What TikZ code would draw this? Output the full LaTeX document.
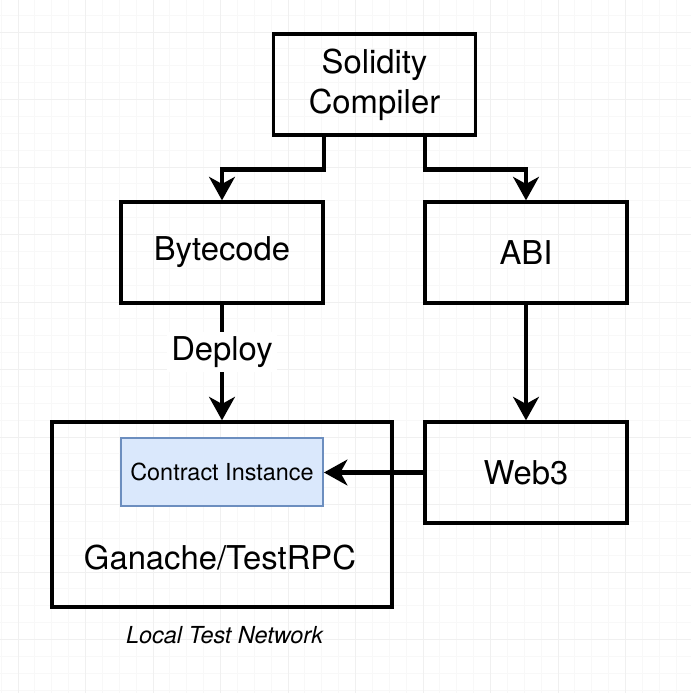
\documentclass[tikz,border=0pt]{standalone}
\usepackage{fontspec}
\setmainfont{TeX Gyre Heros}
\usetikzlibrary{arrows.meta}

\definecolor{instfill}{RGB}{218,232,252}
\definecolor{instline}{RGB}{108,142,191}
\definecolor{gridminor}{RGB}{248,248,248}
\definecolor{gridmajor}{RGB}{240,240,240}

\begin{document}
\begin{tikzpicture}[x=0.03cm,y=-0.03cm,
    box/.style={draw,line width=2.8pt,minimum width=6.06cm,minimum height=3.03cm,
      inner sep=0pt,align=center,font=\fontsize{28}{34}\selectfont},
    txt/.style={inner sep=0pt,font=\fontsize{28}{34}\selectfont},
    arr/.style={line width=3.8pt,-{Stealth[length=20pt,width=22pt,inset=6pt]}}]

    % background and grid
    \fill[white] (0,0) rectangle (691,693);
    \useasboundingbox (0,0) rectangle (691,693);
    \foreach \i in {0,...,41} {
      \draw[gridminor,line width=0.7pt] ({1.125+16.875*\i},0) -- ++(0,693);
      \draw[gridminor,line width=0.7pt] (0,{15.125+16.875*\i}) -- ++(691,0);
    }
    \foreach \i in {0,...,10} {
      \draw[gridmajor,line width=0.8pt] ({18+67.5*\i},0) -- ++(0,693);
      \draw[gridmajor,line width=0.8pt] (0,{32+67.5*\i}) -- ++(691,0);
    }

    % boxes
    \node[box] (comp) at (374.5,84.5) {Solidity\\Compiler};
    \node[box] (byte) at (222,252.5)  {Bytecode};
    \node[box] (abi)  at (526,252.5)  {ABI};
    \node[box] (web3) at (526,472.5)  {Web3};

    \node[draw,line width=2.8pt,minimum width=10.2cm,minimum height=5.55cm] (gan) at (222,514.5) {};
    \node[draw=instline,fill=instfill,line width=1.6pt,minimum width=6.06cm,minimum height=2.04cm,
      font=\fontsize{20}{22}\selectfont] (inst) at (222,472) {Contract Instance};
    \node[txt] (gantxt) at (220,558) {Ganache/TestRPC};
    \node[inner sep=0pt,font=\fontsize{20}{22}\selectfont\itshape] (net) at (224.5,635) {Local Test Network};

    % arrows
    \draw[arr] ([xshift=-1.515cm]comp.south) -- ++(0,33) -| (byte.north);
    \draw[arr] ([xshift=1.515cm]comp.south) -- ++(0,33) -| (abi.north);
    \draw[arr] (byte.south) -- node[txt,pos=0.41,fill=white,inner sep=4pt] (deploy) {Deploy} (gan.north);
    \draw[arr] (abi.south) -- (web3.north);
    \draw[arr] (web3.west) -- (web3.west -| inst.east);
\end{tikzpicture}
\end{document}
